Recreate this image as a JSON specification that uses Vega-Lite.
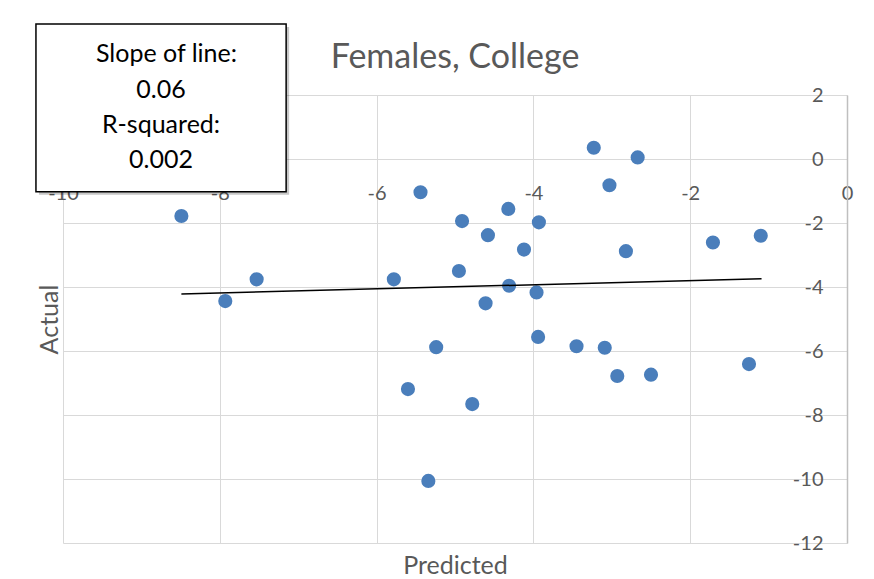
{
  "$schema": "https://vega.github.io/schema/vega-lite/v6.json",
  "width": 784,
  "height": 448,
  "autosize": {"type": "none"},
  "padding": {"left": 63, "top": 95, "right": 27, "bottom": 36},
  "background": "white",
  "config": {"font": "Lato", "view": {"stroke": null}},
  "title": {"text": "Females, College", "frame": "group", "anchor": "middle", "baseline": "alphabetic", "offset": -79, "fontSize": 34, "font": "Lato", "fontWeight": "normal", "color": "#595959"},
  "datasets": {
    "points": [
      {"predicted": -8.49, "actual": -1.78},
      {"predicted": -7.93, "actual": -4.44},
      {"predicted": -7.53, "actual": -3.76},
      {"predicted": -5.78, "actual": -3.76},
      {"predicted": -5.44, "actual": -1.04},
      {"predicted": -5.60, "actual": -7.19},
      {"predicted": -5.24, "actual": -5.88},
      {"predicted": -5.34, "actual": -10.06},
      {"predicted": -4.91, "actual": -1.94},
      {"predicted": -4.95, "actual": -3.50},
      {"predicted": -4.78, "actual": -7.66},
      {"predicted": -4.58, "actual": -2.38},
      {"predicted": -4.61, "actual": -4.51},
      {"predicted": -4.32, "actual": -1.56},
      {"predicted": -4.31, "actual": -3.96},
      {"predicted": -4.12, "actual": -2.83},
      {"predicted": -3.93, "actual": -1.98},
      {"predicted": -3.96, "actual": -4.17},
      {"predicted": -3.94, "actual": -5.56},
      {"predicted": -3.45, "actual": -5.85},
      {"predicted": -3.23, "actual": 0.35},
      {"predicted": -3.03, "actual": -0.82},
      {"predicted": -2.67, "actual": 0.05},
      {"predicted": -2.82, "actual": -2.88},
      {"predicted": -3.09, "actual": -5.90},
      {"predicted": -2.93, "actual": -6.78},
      {"predicted": -2.50, "actual": -6.74},
      {"predicted": -1.71, "actual": -2.61},
      {"predicted": -1.10, "actual": -2.40},
      {"predicted": -1.25, "actual": -6.41}
    ],
    "trend": [
      {"predicted": -8.49, "actual": -4.22},
      {"predicted": -1.09, "actual": -3.74}
    ],
    "box": [
      {"x1": -10.345, "x2": -7.154, "y1": 4.22, "y2": -1.02}
    ],
    "boxtext": [
      {"x": -8.68, "y": 3.02, "label": "Slope of line:"},
      {"x": -8.75, "y": 1.92, "label": "0.06"},
      {"x": -8.75, "y": 0.81, "label": "R-squared:"},
      {"x": -8.75, "y": -0.29, "label": "0.002"}
    ]
  },
  "layer": [
    {
      "data": {"name": "points"},
      "mark": {"type": "circle", "size": 200, "color": "#4a7ebb", "opacity": 1},
      "encoding": {
        "x": {"field": "predicted", "type": "quantitative",
          "scale": {"domain": [-10, 0], "nice": false, "zero": false},
          "axis": {"orient": "top", "offset": -64, "title": null, "grid": false, "ticks": false,
            "domain": true, "domainColor": "#d9d9d9", "labelPadding": -24, "labelBaseline": "top",
            "labelFont": "Lato", "labelFontSize": 20, "labelColor": "#595959", "labelFlush": false,
            "labelOverlap": false, "labelBound": false, "values": [-10, -8, -6, -4, -2, 0],
            "labelExpr": "'' + datum.value"}},
        "y": {"field": "actual", "type": "quantitative",
          "scale": {"domain": [-12, 2], "nice": false, "zero": false},
          "axis": {"orient": "right", "title": null, "grid": false, "ticks": false,
            "domain": true, "domainColor": "#bfbfbf", "domainWidth": 1.5, "labelPadding": -24, "labelAlign": "right",
            "labelBaseline": "middle", "labelFont": "Lato", "labelFontSize": 20, "labelColor": "#595959",
            "labelFlush": false, "labelOverlap": false, "labelBound": false,
            "values": [-12, -10, -8, -6, -4, -2, 0, 2], "labelExpr": "'' + datum.value"}}
      }
    },
    {
      "data": {"name": "trend"},
      "mark": {"type": "line", "color": "black", "strokeWidth": 1.5},
      "encoding": {
        "x": {"field": "predicted", "type": "quantitative",
          "scale": {"domain": [-10, 0], "nice": false, "zero": false},
          "axis": {"orient": "bottom", "title": "Predicted", "labels": false, "ticks": false, "domain": false,
            "grid": true, "gridColor": "#d9d9d9", "gridWidth": 1, "values": [-10, -8, -6, -4, -2, 0],
            "titleFont": "Lato", "titleFontSize": 25, "titleFontWeight": "normal", "titleColor": "#595959",
            "titleBaseline": "alphabetic", "titlePadding": 30}},
        "y": {"field": "actual", "type": "quantitative",
          "scale": {"domain": [-12, 2], "nice": false, "zero": false},
          "axis": {"orient": "left", "title": "Actual", "labels": false, "ticks": false, "domain": false,
            "grid": true, "gridColor": "#d9d9d9", "gridWidth": 1, "values": [-12, -10, -8, -6, -4, -2, 0, 2],
            "titleFont": "Lato", "titleFontSize": 25, "titleFontWeight": "normal", "titleColor": "#595959",
            "titleBaseline": "alphabetic", "titlePadding": 6}}
      }
    },
    {
      "data": {"name": "box"},
      "mark": {"type": "rect", "fill": "black", "opacity": 0.22, "xOffset": 3, "x2Offset": 3, "yOffset": 3, "y2Offset": 3},
      "encoding": {
        "x": {"field": "x1", "type": "quantitative", "scale": {"domain": [-10, 0], "nice": false, "zero": false}, "axis": null},
        "x2": {"field": "x2"},
        "y": {"field": "y1", "type": "quantitative", "scale": {"domain": [-12, 2], "nice": false, "zero": false}, "axis": null},
        "y2": {"field": "y2"}
      }
    },
    {
      "data": {"name": "box"},
      "mark": {"type": "rect", "fill": "white", "stroke": "black", "strokeWidth": 1.5},
      "encoding": {
        "x": {"field": "x1", "type": "quantitative", "scale": {"domain": [-10, 0], "nice": false, "zero": false}, "axis": null},
        "x2": {"field": "x2"},
        "y": {"field": "y1", "type": "quantitative", "scale": {"domain": [-12, 2], "nice": false, "zero": false}, "axis": null},
        "y2": {"field": "y2"}
      }
    },
    {
      "data": {"name": "boxtext"},
      "mark": {"type": "text", "align": "center", "baseline": "alphabetic", "font": "Lato", "fontSize": 25, "color": "black"},
      "encoding": {
        "x": {"field": "x", "type": "quantitative", "scale": {"domain": [-10, 0], "nice": false, "zero": false}, "axis": null},
        "y": {"field": "y", "type": "quantitative", "scale": {"domain": [-12, 2], "nice": false, "zero": false}, "axis": null},
        "text": {"field": "label"}
      }
    }
  ]
}
